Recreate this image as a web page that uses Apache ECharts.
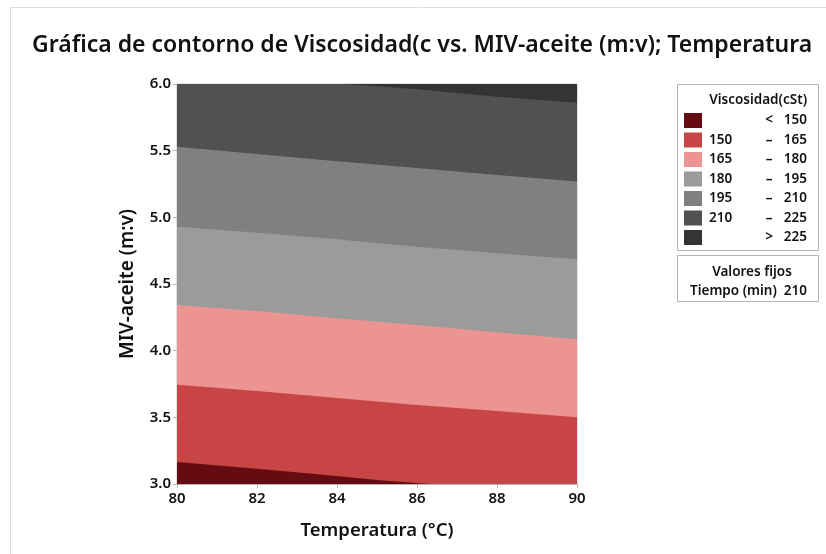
<!DOCTYPE html>
<html>
<head>
<meta charset="utf-8">
<script src="https://cdn.jsdelivr.net/npm/echarts@6/dist/echarts.min.js"></script>
<style>
  html, body { margin: 0; padding: 0; background: #fff; }
  #chart { width: 826px; height: 554px; }
</style>
</head>
<body>
<div id="chart"></div>
<script>
// temperatures where each contour boundary was read
const temps = [80, 82, 84, 86, 88, 90];
// MIV-aceite value of each contour boundary (upper edge of band)
const b225 = [6.10, 6.05, 6.005, 5.96, 5.905, 5.86];
const b210 = [5.53, 5.475, 5.42, 5.37, 5.318, 5.268];
const b195 = [4.93, 4.885, 4.835, 4.78, 4.73, 4.685];
const b180 = [4.342, 4.298, 4.243, 4.193, 4.138, 4.085];
const b165 = [3.745, 3.698, 3.645, 3.593, 3.548, 3.50];
const temps150 = [80, 82, 84, 85, 86.3];
const b150 = [3.165, 3.115, 3.06, 3.03, 3.0];

const bandColors = ['#650c13', '#c84545', '#eb9492', '#9b9b9b', '#808080', '#515151', '#343434'];
const bandLow = ['', '150', '165', '180', '195', '210', ''];
const bandMid = ['<', '–', '–', '–', '–', '–', '>'];
const bandHigh = ['150', '165', '180', '195', '210', '225', '225'];

const xTicks = [80, 82, 84, 86, 88, 90];
const yTicks = [3.0, 3.5, 4.0, 4.5, 5.0, 5.5, 6.0];

const txt = '#111';
const fontFam = '"Noto Sans", "Open Sans", sans-serif';
const legFont = '600 13.5px ' + fontFam;

// from top band down: each area fills from its boundary to the bottom of the plot
const layers = [
  { x: temps, y: temps.map(() => yTicks[yTicks.length - 1]), color: bandColors[6] },
  { x: temps, y: b225, color: bandColors[5] },
  { x: temps, y: b210, color: bandColors[4] },
  { x: temps, y: b195, color: bandColors[3] },
  { x: temps, y: b180, color: bandColors[2] },
  { x: temps, y: b165, color: bandColors[1] },
  { x: temps150, y: b150, color: bandColors[0] }
];

const series = layers.map((l, i) => ({
  type: 'line',
  data: l.x.map((t, j) => [t, l.y[j]]),
  symbol: 'none',
  silent: true,
  lineStyle: { width: 0 },
  areaStyle: { color: l.color, opacity: 1, origin: 'start' },
  z: 2 + i * 0.01
}));

// legend drawn as graphic elements
const graphic = [
  { type: 'rect', shape: { x: 10.5, y: 7.5, width: 900, height: 600 }, style: { fill: 'none', stroke: '#dcdcdc', lineWidth: 1 }, silent: true, z: 0 },
  { type: 'rect', shape: { x: 677.5, y: 84.5, width: 141, height: 166 }, style: { fill: '#fff', stroke: '#b4b4b4', lineWidth: 1 } },
  { type: 'text', x: 807, y: 100, style: { text: 'Viscosidad(cSt)', font: legFont, fill: txt, textAlign: 'right', textVerticalAlign: 'middle' } },
  { type: 'rect', shape: { x: 677.5, y: 255.5, width: 141, height: 46 }, style: { fill: '#fff', stroke: '#b4b4b4', lineWidth: 1 } },
  { type: 'text', x: 752, y: 272, style: { text: 'Valores fijos', font: legFont, fill: txt, textAlign: 'center', textVerticalAlign: 'middle' } },
  { type: 'text', x: 690, y: 291, style: { text: 'Tiempo (min)', font: legFont, fill: txt, textAlign: 'left', textVerticalAlign: 'middle' } },
  { type: 'text', x: 807, y: 291, style: { text: '210', font: legFont, fill: txt, textAlign: 'right', textVerticalAlign: 'middle' } }
];
bandColors.forEach((c, i) => {
  const y = 113 + i * 19.5;
  graphic.push({ type: 'rect', shape: { x: 684, y: y, width: 18, height: 15 }, style: { fill: c } });
  const cy = y + 7.5;
  graphic.push({ type: 'text', x: 709, y: cy, style: { text: bandLow[i], font: legFont, fill: txt, textAlign: 'left', textVerticalAlign: 'middle' } });
  graphic.push({ type: 'text', x: 769, y: cy, style: { text: bandMid[i], font: legFont, fill: txt, textAlign: 'center', textVerticalAlign: 'middle' } });
  graphic.push({ type: 'text', x: 807, y: cy, style: { text: bandHigh[i], font: legFont, fill: txt, textAlign: 'right', textVerticalAlign: 'middle' } });
});

const myChart = echarts.init(document.getElementById('chart'));
myChart.setOption({
  animation: false,
  backgroundColor: '#fff',
  textStyle: { fontFamily: fontFam },
  title: {
    text: 'Gráfica de contorno de Viscosidad(c vs. MIV-aceite (m:v); Temperatura',
    left: 27,
    top: 29,
    textStyle: { fontSize: 23, fontWeight: 600, color: txt, fontFamily: fontFam }
  },
  grid: {
    left: 177, right: 249, top: 84, bottom: 70,
    show: true, borderColor: '#c4c4c4', borderWidth: 1, backgroundColor: 'transparent'
  },
  xAxis: {
    type: 'value',
    min: xTicks[0], max: xTicks[xTicks.length - 1], interval: 2,
    name: 'Temperatura (°C)',
    nameLocation: 'middle',
    nameGap: 37,
    nameTextStyle: { fontSize: 18.5, fontWeight: 600, color: txt },
    axisLine: { show: true, lineStyle: { color: '#b5b5b5' } },
    axisTick: { show: true, length: 4, lineStyle: { color: '#b5b5b5' } },
    axisLabel: { fontSize: 15, fontWeight: 600, color: txt, margin: 7 },
    splitLine: { show: false }
  },
  yAxis: {
    type: 'value',
    min: yTicks[0], max: yTicks[yTicks.length - 1], interval: 0.5,
    name: 'MIV-aceite (m:v)',
    nameLocation: 'middle',
    nameGap: 40,
    nameTextStyle: { fontSize: 19, fontWeight: 600, color: txt },
    axisLine: { show: true, lineStyle: { color: '#b5b5b5' } },
    axisTick: { show: true, length: 4, lineStyle: { color: '#b5b5b5' } },
    axisLabel: { fontSize: 15, fontWeight: 600, color: txt, margin: 6, formatter: v => v.toFixed(1) },
    splitLine: { show: false }
  },
  series: series,
  graphic: graphic
});
window.onresize = function () {
  myChart.resize();
};
</script>
</body>
</html>
